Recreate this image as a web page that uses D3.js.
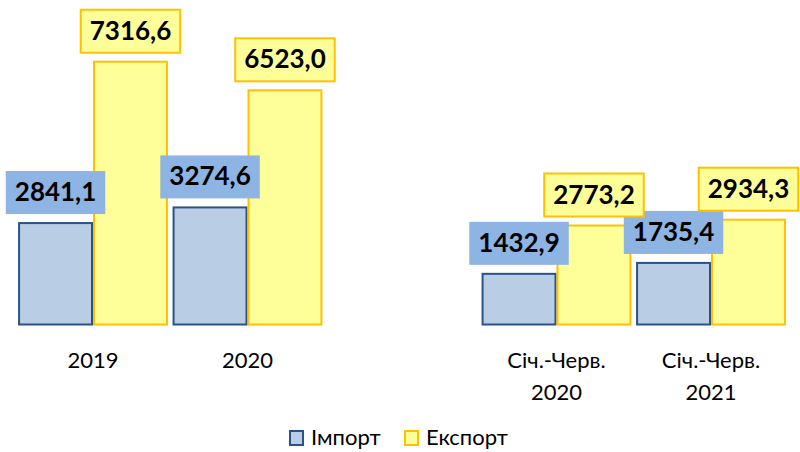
<!DOCTYPE html>
<html>
<head>
<meta charset="utf-8">
<script src="https://cdn.jsdelivr.net/npm/d3@7"></script>
<style>
  body { margin: 0; background: #fff; }
  text { font-family: Lato, Roboto, sans-serif; fill: #000; }
</style>
</head>
<body>
<div class="canvas"></div>
<script>
const dims = { width: 800, height: 452 }

// data
const categories = ['2019', '2020', 'gap', 'h1-2020', 'h1-2021']
const categoryLabels = [['2019'], ['2020'], [], ['Січ.-Черв.', '2020'], ['Січ.-Черв.', '2021']]
const importValues = [2841.1, 3274.6, null, 1432.9, 1735.4]
const exportValues = [7316.6, 6523.0, null, 2773.2, 2934.3]
const seriesNames = ['Імпорт', 'Експорт']

const colors = {
  importFill: '#B9CDE5', importStroke: '#2A5287', importLabel: '#8EB4E3',
  exportFill: '#FFFF99', exportStroke: '#FFC000'
}

const svg = d3.select('.canvas')
  .append('svg')
  .attr('width', dims.width)
  .attr('height', dims.height)

const x = d3.scaleBand()
  .domain(categories)
  .range([15.75, 788.25])
  .paddingInner(0.03)
  .paddingOuter(0.015)

const sub = d3.scaleBand()
  .domain(['import', 'export'])
  .range([0, x.bandwidth()])

const y = d3.scaleLinear()
  .domain([0, 9000])
  .range([324.5, 0])

const fmt = d3.formatLocale({ decimal: ',', thousands: '', grouping: [3], currency: ['', ''] }).format('.1f')

const rows = categories.map((c, i) => ({ cat: c, imp: importValues[i], exp: exportValues[i] }))
  .filter(d => d.imp !== null)

const series = [
  { key: 'import', get: d => d.imp, fill: colors.importFill, stroke: colors.importStroke, box: colors.importLabel, boxStroke: 'none' },
  { key: 'export', get: d => d.exp, fill: colors.exportFill, stroke: colors.exportStroke, box: colors.exportFill, boxStroke: colors.exportStroke }
]

// bars
series.forEach(s => {
  svg.selectAll('.bar-' + s.key)
    .data(rows)
    .enter()
    .append('rect')
      .attr('class', 'bar-' + s.key)
      .attr('x', d => x(d.cat) + sub(s.key) + 1)
      .attr('width', sub.bandwidth() - 2)
      .attr('y', d => y(s.get(d)) + 1)
      .attr('height', d => y(0) - y(s.get(d)) - 1)
      .attr('fill', s.fill)
      .attr('stroke', s.stroke)
      .attr('stroke-width', 2)
})

// value labels in boxes
series.forEach(s => {
  const g = svg.selectAll('.lbl-' + s.key)
    .data(rows)
    .enter()
    .append('g')
      .attr('class', 'lbl-' + s.key)
      .attr('transform', d => `translate(${x(d.cat) + sub(s.key) + sub.bandwidth() / 2}, ${y(s.get(d)) - 8})`)

  const box = g.append('rect')
  const txt = g.append('text')
    .attr('text-anchor', 'middle')
    .attr('y', -13)
    .attr('font-size', 26)
    .attr('font-weight', 'bold')
    .text(d => fmt(s.get(d)))

  box.each(function (d, i) {
    const w = txt.nodes()[i].getBBox().width + 18
    d3.select(this)
      .attr('x', -w / 2)
      .attr('y', -43)
      .attr('width', w)
      .attr('height', 43)
      .attr('fill', s.box)
      .attr('stroke', s.boxStroke)
      .attr('stroke-width', 2)
  })
})

// category axis
const axis = svg.append('g')
  .attr('transform', `translate(0, ${y(0)})`)
  .call(d3.axisBottom(x).tickSize(0).tickFormat(''))

axis.select('.domain').remove()

axis.selectAll('.tick text').remove()
axis.selectAll('.tick')
  .append('text')
    .attr('text-anchor', 'middle')
    .attr('font-size', 22)
    .each(function (d, i) {
      d3.select(this).selectAll('tspan')
        .data(categoryLabels[i])
        .enter()
        .append('tspan')
          .attr('x', 0)
          .attr('y', (t, j) => 43 + j * 32)
          .text(t => t)
    })

// legend
const legend = svg.append('g')
  .attr('transform', 'translate(290, 431)')

const legendItems = legend.selectAll('g')
  .data(series)
  .enter()
  .append('g')
    .attr('transform', (d, i) => `translate(${i * 115}, 0)`)

legendItems.append('rect')
  .attr('width', 13)
  .attr('height', 14)
  .attr('fill', d => d.fill)
  .attr('stroke', d => d.stroke)
  .attr('stroke-width', 2)

legendItems.append('text')
  .attr('x', 21)
  .attr('y', 14)
  .attr('font-size', 22)
  .text((d, i) => seriesNames[i])
</script>
</body>
</html>
